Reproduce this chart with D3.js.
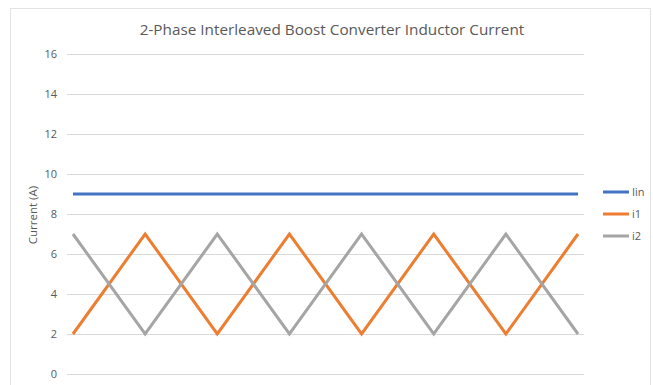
<!DOCTYPE html>
<html>
<head>
<meta charset="utf-8">
<script src="https://cdn.jsdelivr.net/npm/d3@7"></script>
<style>
  html, body { margin: 0; padding: 0; background: #fff; }
  svg { display: block; }
  text { font-family: "Open Sans", "Noto Sans", sans-serif; }
</style>
</head>
<body>
<svg id="chart" width="653" height="385"></svg>
<script>
// Switching steps along the horizontal axis
const steps = [0, 1, 2, 3, 4, 5, 6, 7];
// Input current and the two phase inductor currents (A)
const iin = [9, 9, 9, 9, 9, 9, 9, 9];
const i1 = [2, 7, 2, 7, 2, 7, 2, 7];
const i2 = [7, 2, 7, 2, 7, 2, 7, 2];
const yTicks = [0, 2, 4, 6, 8, 10, 12, 14, 16];

const series = [
  { name: "Iin", values: iin, color: "#4472C4" },
  { name: "i1", values: i1, color: "#ED7D31" },
  { name: "i2", values: i2, color: "#A5A5A5" }
];

const svg = d3.select("#chart");
const plot = { left: 67, right: 584, top: 54, bottom: 374 };

// Chart area frame
svg.append("rect")
  .attr("x", 10.5).attr("y", 8.5)
  .attr("width", 640).attr("height", 400)
  .attr("fill", "#fff")
  .attr("stroke", "#e3e3e3").attr("stroke-width", 1);

const x = d3.scalePoint()
  .domain(steps)
  .range([plot.left, plot.right])
  .padding(0.083);

const y = d3.scaleLinear()
  .domain([0, 16])
  .range([plot.bottom, plot.top]);

// Horizontal gridlines and value labels
const yAxis = d3.axisLeft(y)
  .tickValues(yTicks)
  .tickSize(-(plot.right - plot.left))
  .tickPadding(10);

const gy = svg.append("g")
  .attr("transform", `translate(${plot.left},0)`)
  .call(yAxis);
gy.select(".domain").remove();
gy.selectAll(".tick line").attr("stroke", "#d9d9d9").attr("stroke-width", 1);
gy.selectAll(".tick text")
  .attr("fill", "#595959")
  .style("font-size", "11px");

// Axis title
svg.append("text")
  .attr("transform", `translate(37,${(plot.top + plot.bottom) / 2 + 1}) rotate(-90)`)
  .attr("text-anchor", "middle")
  .attr("fill", "#595959")
  .style("font-size", "11.5px")
  .text("Current (A)");

// Chart title
svg.append("text")
  .attr("x", 332)
  .attr("y", 35)
  .attr("text-anchor", "middle")
  .attr("fill", "#595959")
  .style("font-size", "15.3px")
  .text("2-Phase Interleaved Boost Converter Inductor Current");

// Series lines
const line = d3.line()
  .x((d, i) => x(steps[i]))
  .y(d => y(d));

svg.append("g").selectAll("path")
  .data(series)
  .join("path")
  .attr("d", d => line(d.values))
  .attr("fill", "none")
  .attr("stroke", d => d.color)
  .attr("stroke-width", 3)
  .attr("stroke-linejoin", "miter")
  .attr("stroke-linecap", "butt");

// Legend
const legend = svg.append("g")
  .selectAll("g")
  .data(series)
  .join("g")
  .attr("transform", (d, i) => `translate(603,${192 + i * 22})`);

legend.append("line")
  .attr("x1", 0).attr("x2", 26)
  .attr("y1", 0).attr("y2", 0)
  .attr("stroke", d => d.color)
  .attr("stroke-width", 3);

legend.append("text")
  .attr("x", 29)
  .attr("y", 4)
  .attr("fill", "#595959")
  .style("font-size", "11px")
  .text(d => d.name);
</script>
</body>
</html>
